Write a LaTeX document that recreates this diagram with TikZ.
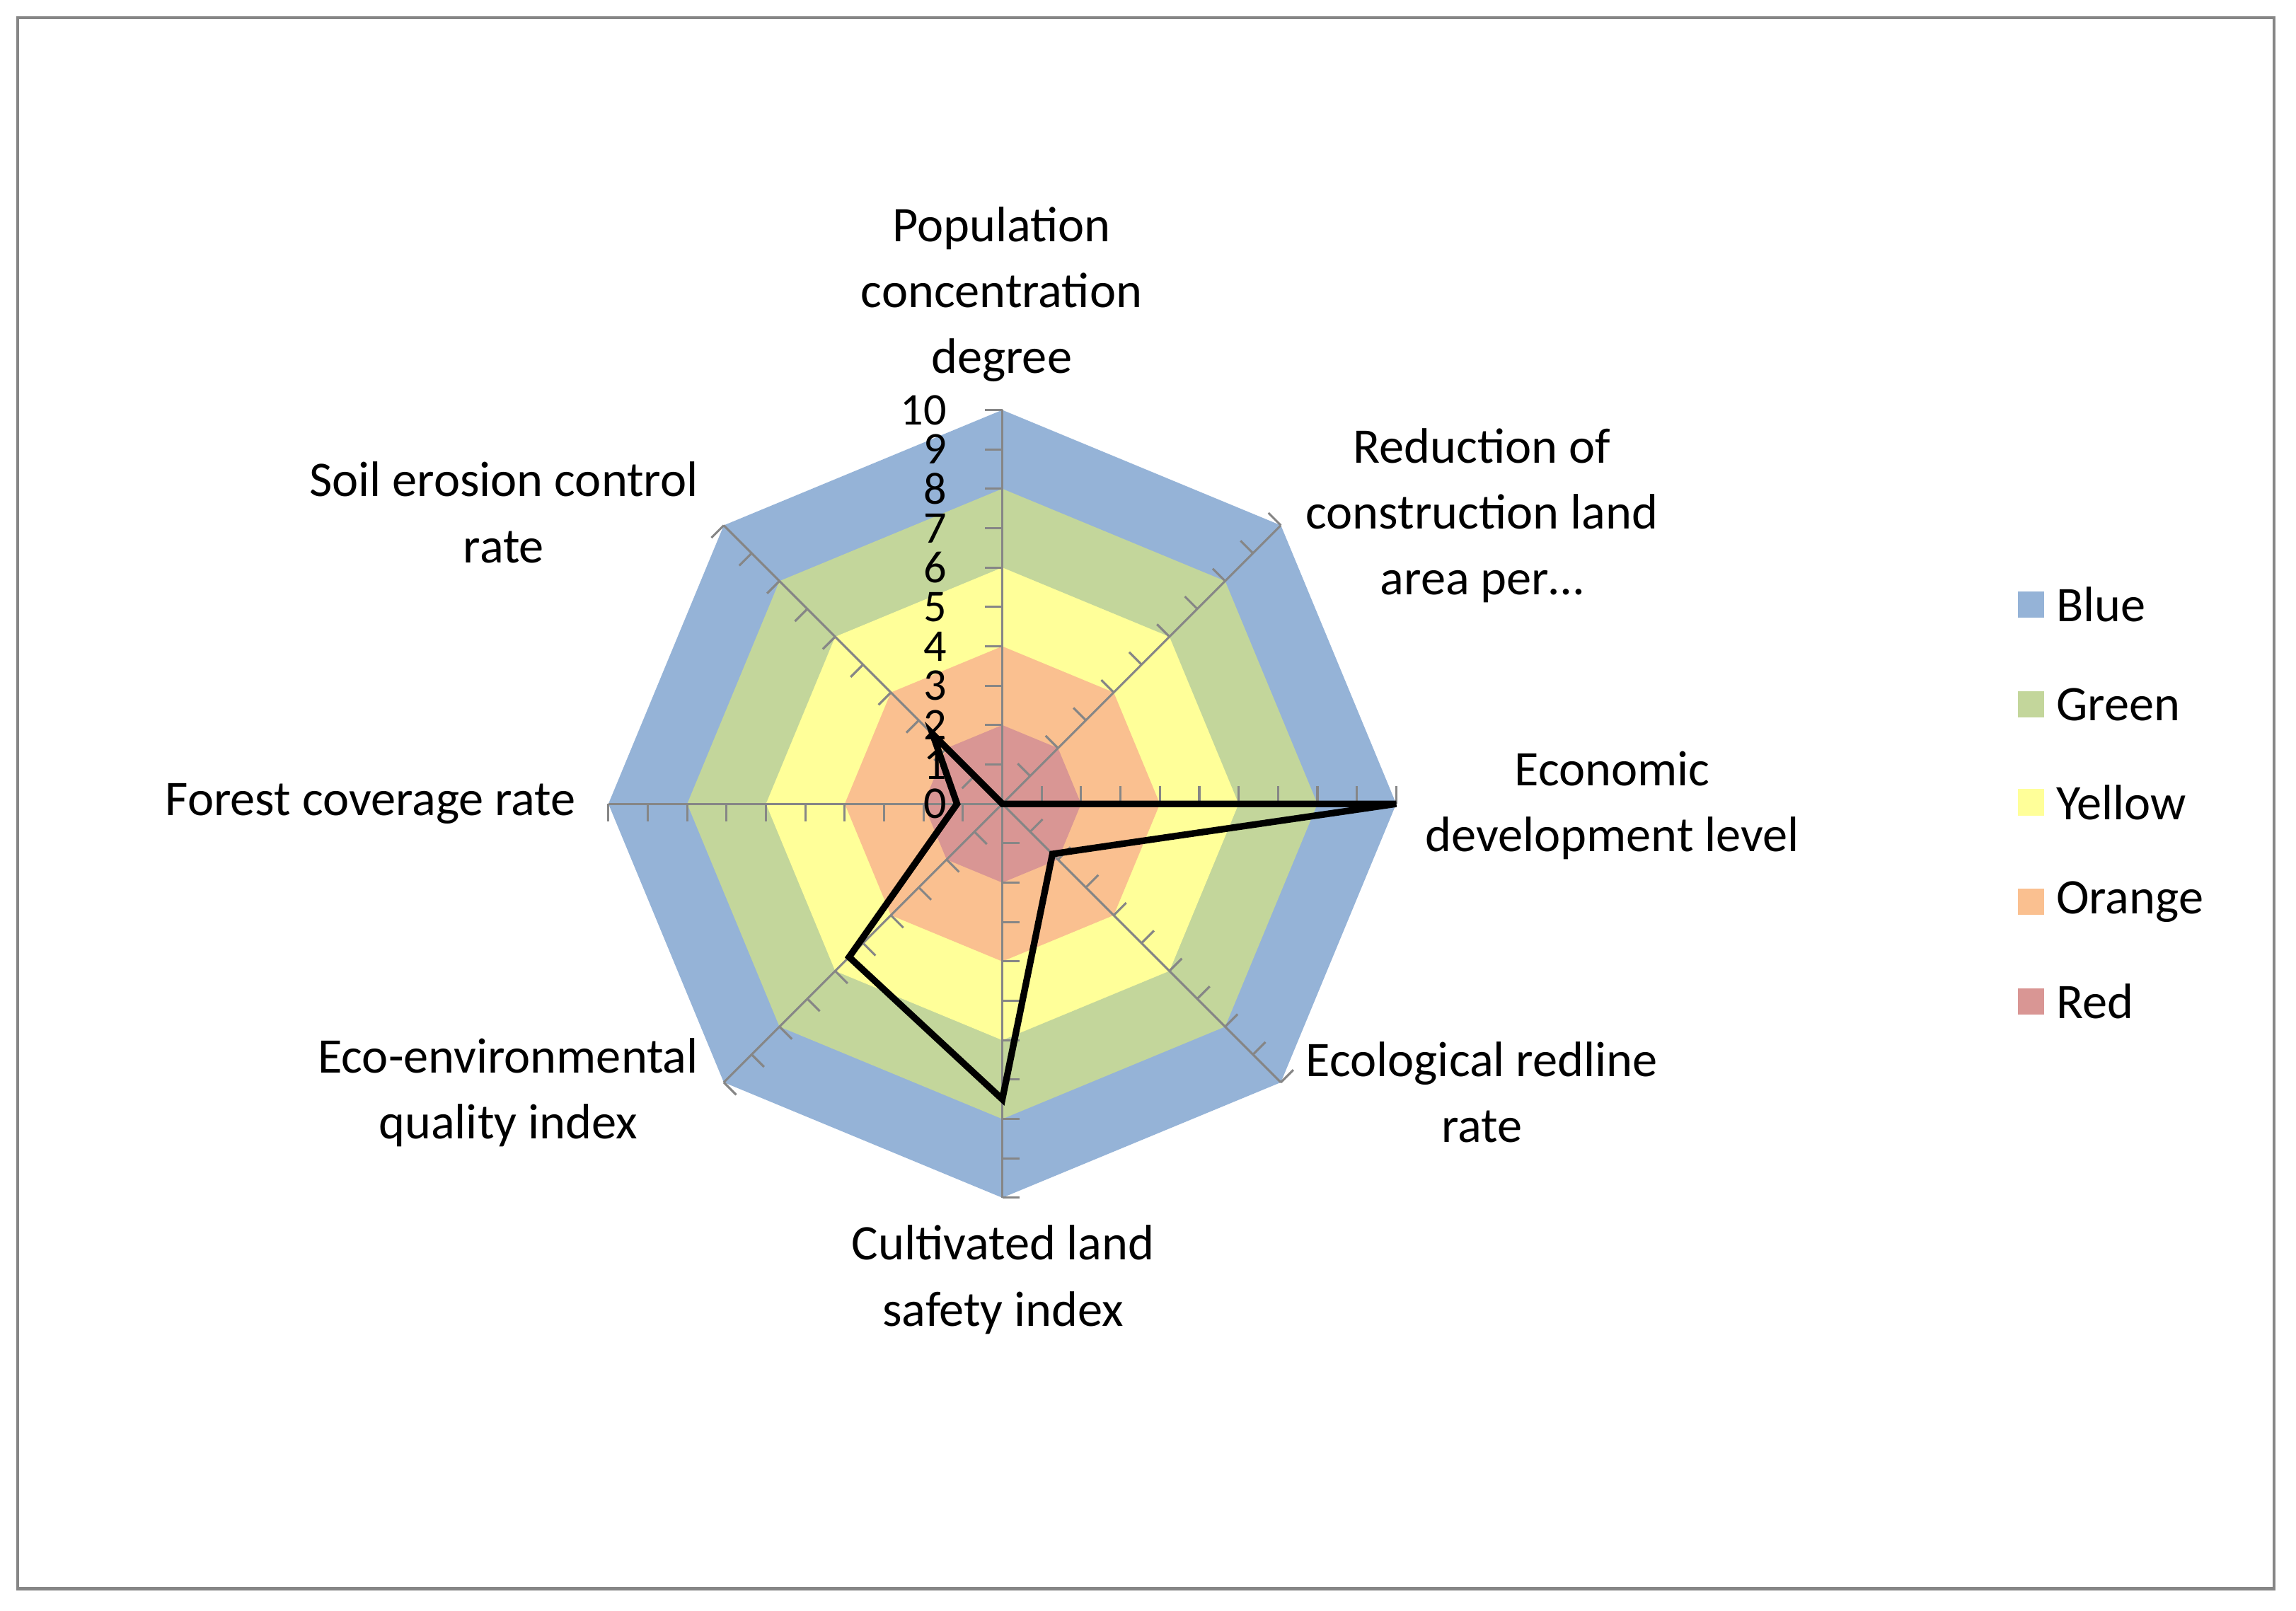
\documentclass[tikz,border=0pt]{standalone}
\usepackage{fontspec}
\setmainfont{Carlito}
\usetikzlibrary{calc}
\definecolor{cblue}{HTML}{95B3D7}
\definecolor{cgreen}{HTML}{C3D69B}
\definecolor{cyellow}{HTML}{FFFF99}
\definecolor{corange}{HTML}{FAC090}
\definecolor{cred}{HTML}{D99694}
\definecolor{cax}{HTML}{868686}
\begin{document}
\begin{tikzpicture}[x=1pt,y=-1pt,
  lab/.style={align=center,font=\fontsize{34}{45}\selectfont,inner sep=0pt},
  num/.style={anchor=east,font=\fontsize{31}{31}\selectfont,inner sep=0pt},
  leg/.style={anchor=west,font=\fontsize{34}{34}\selectfont,inner sep=0pt}]
\useasboundingbox (0,0) rectangle (1568,1100);
\fill[white] (0,0) rectangle (1568,1100);
\draw[cax,line width=2pt] (12,12) rectangle (1553,1085);
\coordinate (c) at (684.5,549);
\def\U{26.9}
\foreach \r/\col in {10/cblue,8/cgreen,6/cyellow,4/corange,2/cred}{
  \fill[\col] ($(c)+(-90:\r*\U)$) \foreach \a in {45,0,-45,-90,-135,180,135}{ -- ($(c)+(-\a:\r*\U)$)} -- cycle;
}
\foreach \a in {90,45,0,-45,-90,-135,180,135}{
  \draw[cax,line width=1.5pt] (c) -- ($(c)+(-\a:10*\U)$);
  \foreach \k in {1,...,10}{
    \draw[cax,line width=1.5pt] ($(c)+(-\a:\k*\U)$) -- ++(-\a-90:12);
  }
}
\foreach \k in {0,...,10}{
  \node[num] (n\k) at ($(c)+(-38,-\k*\U)$) {\k};
}
\draw[black,line width=4.5pt,line join=miter]
  (c) -- ($(c)+(0:10*\U)$) -- ($(c)+(45:1.8*\U)$)
  -- ($(c)+(90:7.5*\U)$) -- ($(c)+(135:5.5*\U)$) -- ($(c)+(180:1.15*\U)$)
  -- ($(c)+(-135:2.5*\U)$) -- cycle;
\node[lab] (l1) at (684,201) {Population\\concentration\\degree};
\node[lab] (l2) at (1012,352) {Reduction of\\construction land\\area per\dots};
\node[lab] (l3) at (1101,550) {Economic\\development level};
\node[lab] (l4) at (1012,746) {Ecological redline\\rate};
\node[lab] (l5) at (685,874) {Cultivated land\\safety index};
\node[lab] (l6) at (347,746) {Eco-environmental\\quality index};
\node[lab] (l7) at (253,549) {Forest coverage rate};
\node[lab] (l8) at (344,350) {Soil erosion control\\rate};
\foreach \y/\col/\t [count=\i] in {413/cblue/Blue,481/cgreen/Green,548/cyellow/Yellow,616/corange/Orange,684/cred/Red}{
  \fill[\col] (1378,\y-9) rectangle (1396,\y+9);
  \node[leg] (g\i) at (1404,\y) {\t};
}
\end{tikzpicture}
\end{document}
